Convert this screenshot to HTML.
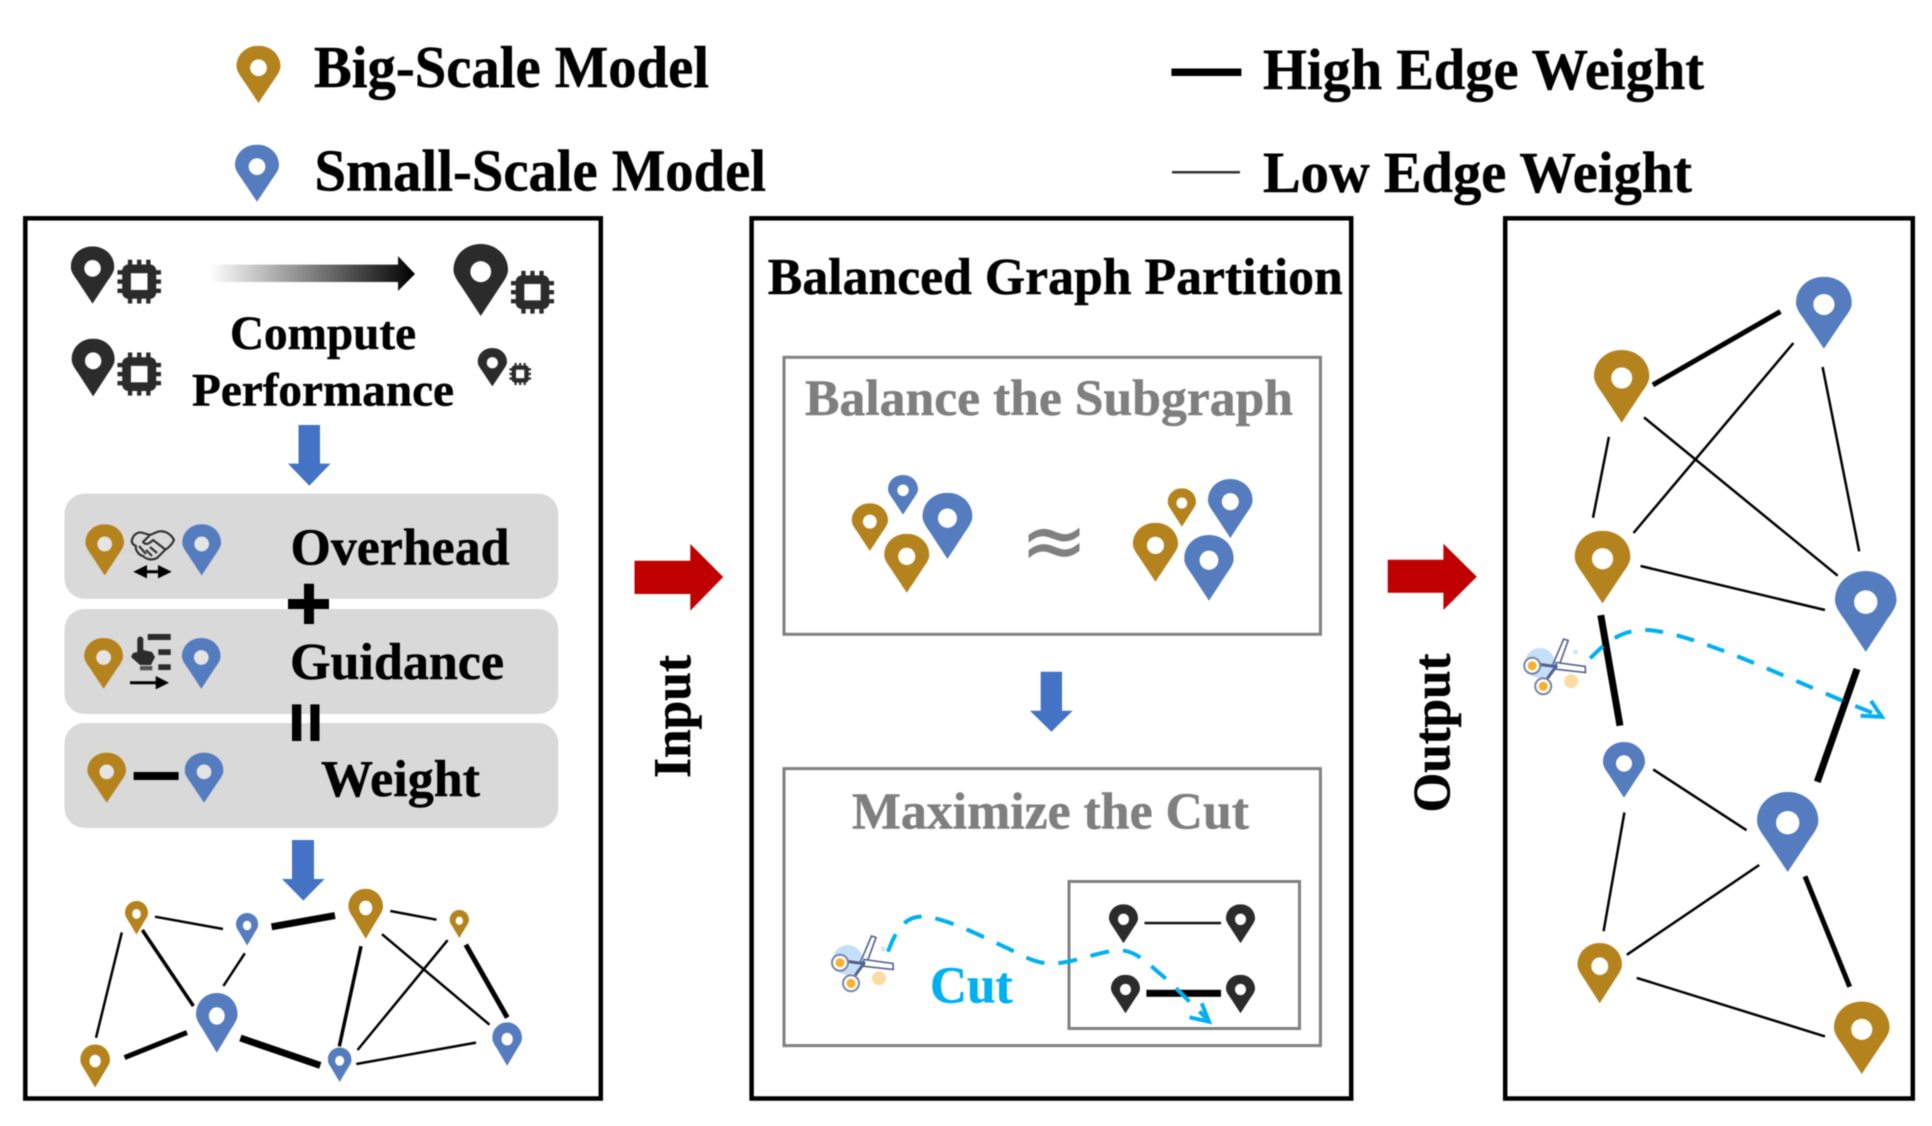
<!DOCTYPE html>
<html><head><meta charset="utf-8"><style>
html,body{margin:0;padding:0;background:#fff}
svg{display:block;filter:blur(.5px)}
text{font-family:"Liberation Serif",serif;font-weight:bold;stroke:#000;stroke-width:.5}
text.g{fill:#7f7f7f;stroke:#7f7f7f}
text.b{fill:#00b0f0;stroke:#00b0f0}
text.a{font-family:"DejaVu Sans",sans-serif;font-weight:normal;fill:#808080;stroke:#808080;stroke-width:.8;stroke-linejoin:round}
</style></head><body>
<svg width="1932" height="1126" viewBox="0 0 1932 1126" xmlns="http://www.w3.org/2000/svg">
<defs>
<symbol id="p" viewBox="0 0 100 130" preserveAspectRatio="none">
<path fill="currentColor" d="M50 130L14 76C5 64 0 55 0 47C0 20 22 0 50 0C78 0 100 20 100 47C100 55 95 64 86 76Z"/>
<ellipse cx="50" cy="50" rx="19" ry="19" fill="#fff"/>
</symbol>
<symbol id="q" viewBox="0 0 100 130" preserveAspectRatio="none">
<path fill="currentColor" d="M50 130L14 76C5 64 0 55 0 47C0 20 22 0 50 0C78 0 100 20 100 47C100 55 95 64 86 76Z"/>
<ellipse cx="50" cy="50" rx="19" ry="19" fill="#e4e4e4"/>
</symbol>
<symbol id="c" viewBox="0 0 100 100" preserveAspectRatio="none">
<g fill="#2b2b2b">
<rect x="11" y="11" width="78" height="78" rx="14"/>
<rect x="24" y="0" width="10" height="14"/><rect x="45" y="0" width="10" height="14"/><rect x="66" y="0" width="10" height="14"/>
<rect x="24" y="86" width="10" height="14"/><rect x="45" y="86" width="10" height="14"/><rect x="66" y="86" width="10" height="14"/>
<rect x="0" y="24" width="14" height="10"/><rect x="0" y="45" width="14" height="10"/><rect x="0" y="66" width="14" height="10"/>
<rect x="86" y="24" width="14" height="10"/><rect x="86" y="45" width="14" height="10"/><rect x="86" y="66" width="14" height="10"/>
</g>
<rect x="31" y="31" width="38" height="38" fill="#fff"/>
</symbol>
<linearGradient id="gr" x1="0" x2="1" y1="0" y2="0"><stop offset="0" stop-color="#fff"/><stop offset="1" stop-color="#000"/></linearGradient>
<g id="sc">
<circle cx="847.7" cy="960" r="15" fill="#c5dffa"/>
<circle cx="879" cy="978.3" r="7" fill="#fcdca4"/>
<circle cx="883.3" cy="949" r="2.5" fill="#cfe6fb"/>
<path d="M871.5 936L876 937.5L866 965L860 963Z" fill="#fff" stroke="#55608a" stroke-width="1.6"/>
<path d="M893.3 969.5L893 963.5L864 959.5L862 966Z" fill="#fff" stroke="#55608a" stroke-width="1.6"/>
<path d="M863 963.5L848 961.5M863.5 964L854 977" stroke="#55608a" stroke-width="3" fill="none"/>
<circle cx="863.5" cy="963.3" r="2" fill="#3a66b0"/>
<circle cx="840" cy="962.7" r="8" fill="#fff" stroke="#7a85a0" stroke-width="2"/>
<circle cx="840" cy="962.7" r="4.5" fill="#f6b12d"/>
<circle cx="851" cy="983.3" r="8" fill="#fff" stroke="#7a85a0" stroke-width="2"/>
<circle cx="851" cy="983.3" r="4.5" fill="#f6b12d"/>
</g>
</defs>

<!-- Legend -->
<use href="#p" x="236.5" y="45.7" width="44" height="57.3" color="#b5831e"/>
<use href="#p" x="235" y="144.6" width="44" height="57.2" color="#557cbf"/>
<text x="314" y="87" font-size="59" textLength="395" lengthAdjust="spacingAndGlyphs">Big-Scale Model</text>
<text x="314.5" y="190.5" font-size="59" textLength="451.5" lengthAdjust="spacingAndGlyphs">Small-Scale Model</text>
<rect x="1171.4" y="68.5" width="70" height="7.5" fill="#000"/>
<rect x="1172" y="171" width="68" height="2.5" fill="#333"/>
<text x="1263" y="89" font-size="58" textLength="441" lengthAdjust="spacingAndGlyphs">High Edge Weight</text>
<text x="1263" y="192" font-size="58" textLength="429" lengthAdjust="spacingAndGlyphs">Low Edge Weight</text>

<!-- Frames -->
<g fill="none" stroke="#000" stroke-width="4.5">
<rect x="25.3" y="218.3" width="575.5" height="880.2"/>
<rect x="751.6" y="218.3" width="599.6" height="880.2"/>
<rect x="1505.2" y="218.3" width="407.6" height="880.2"/>
</g>

<!-- Left panel top -->
<use href="#p" x="70.8" y="246.4" width="43.5" height="57.2" color="#2b2b2b"/>
<use href="#c" x="117.4" y="259.6" width="43.6" height="44"/>
<use href="#p" x="453.5" y="244" width="54.5" height="72" color="#2b2b2b"/>
<use href="#c" x="511" y="270.7" width="43" height="43"/>
<use href="#p" x="71.6" y="338.6" width="43.1" height="57.8" color="#2b2b2b"/>
<use href="#c" x="117.4" y="352.5" width="43.6" height="43.2"/>
<use href="#p" x="477.7" y="348" width="29.3" height="38.4" color="#2b2b2b"/>
<use href="#c" x="509.3" y="362.9" width="21.7" height="22.1"/>
<path d="M209.6 264.6H398V256L415 274L398 291V282H209.6Z" fill="url(#gr)"/>
<text x="230" y="349" font-size="48" textLength="186" lengthAdjust="spacingAndGlyphs">Compute</text>
<text x="192" y="405.4" font-size="47" textLength="262" lengthAdjust="spacingAndGlyphs">Performance</text>
<path d="M298.5 425H320V463.6H330.6L309.3 485.7L288 463.6H298.5Z" fill="#4472c4"/>

<!-- Gray panels -->
<rect x="64.5" y="493.6" width="493.8" height="105.1" rx="20" fill="#d9d9d9"/>
<rect x="64.5" y="609" width="493.8" height="105" rx="20" fill="#d9d9d9"/>
<rect x="64.5" y="723" width="493.8" height="105" rx="20" fill="#d9d9d9"/>

<use href="#q" x="85.4" y="524.3" width="38.6" height="51.2" color="#b5831e"/>
<use href="#q" x="182.3" y="524.3" width="38.7" height="51.2" color="#557cbf"/>
<g fill="none" stroke="#333" stroke-width="2.2" stroke-linejoin="round">
<path d="M132 540C133 535 138 531 143 533L150 535L157 532C162 530 170 532 174 540C172 545 168 548 165 550L157 558C152 561 146 559 143 556C138 555 135 549 136 546C133 545 131 542 132 540Z"/>
<path d="M150 535L143 542C146 546 150 543 153 540L166 550M146 550L152 556M150 547L157 553M139 546L146 554"/>
</g>
<path d="M142 571.7H163" stroke="#000" stroke-width="3"/>
<path d="M133.3 571.7L147 565V578.4ZM171.7 571.7L158 565V578.4Z" fill="#000"/>
<text x="290.5" y="564.3" font-size="52" textLength="219" lengthAdjust="spacingAndGlyphs">Overhead</text>
<path d="M304 583.7h10v15.3h15v10h-15v15h-10v-15h-16v-10h16Z" fill="#000"/>

<use href="#q" x="84.2" y="638" width="38.8" height="50.7" color="#b5831e"/>
<use href="#q" x="182" y="638" width="38.6" height="50.7" color="#557cbf"/>
<g fill="#2b2b2b">
<rect x="147.7" y="634" width="23" height="6"/>
<rect x="158.3" y="649.3" width="12.4" height="5.7"/>
<rect x="158.3" y="664.3" width="12.4" height="5.7"/>
<path d="M137.3 652V639.5a3 3 0 0 1 6 0V650L152 652L155 657L151 665H140L131 657L133 653Z"/>
<rect x="140" y="666" width="12.3" height="4.3" fill="#555"/>
</g>
<path d="M130 682.7H157" stroke="#000" stroke-width="3"/>
<path d="M155.7 676L169 682.7L155.7 689.4Z" fill="#000"/>
<text x="290" y="679" font-size="52" textLength="214" lengthAdjust="spacingAndGlyphs">Guidance</text>
<rect x="292" y="704.4" width="9.3" height="36.6" fill="#000"/>
<rect x="310.4" y="704.4" width="9.1" height="36.6" fill="#000"/>

<use href="#q" x="87.4" y="752.6" width="38.6" height="50.1" color="#b5831e"/>
<use href="#q" x="184.7" y="752.6" width="38.7" height="50.1" color="#557cbf"/>
<rect x="133.6" y="772" width="45" height="8" fill="#000"/>
<text x="321" y="796" font-size="52" textLength="159" lengthAdjust="spacingAndGlyphs">Weight</text>
<path d="M292 840H314V879H324.6L303.3 900.6L282 879H292Z" fill="#4472c4"/>

<!-- Left graph -->
<g stroke="#000" fill="none">
<path stroke-width="2.5" d="M155 916.7L223 929M121.8 932.4L96 1037.8M244.8 953.3L223.4 986M390.3 911L436.5 919.7M382 934.2L489.5 1024.7M447.6 940.2L357.5 1050M356.3 1064L476 1042.6"/>
<path stroke-width="3.5" d="M142.3 930L193.4 1006M361 946.2L339.3 1046.4"/>
<path stroke-width="7" d="M271.6 926.8L335 915.6M240.4 1038L320.3 1065.4"/>
<path stroke-width="5" d="M465.8 944.7L507.3 1017.6M187 1032.5L124.6 1057.6"/>
</g>
<use href="#p" x="125" y="901" width="23" height="33.6" color="#b5831e"/>
<use href="#p" x="236" y="913" width="22.2" height="32.5" color="#557cbf"/>
<use href="#p" x="348.4" y="888.7" width="34.6" height="50" color="#b5831e"/>
<use href="#p" x="449.6" y="910" width="19.4" height="28" color="#b5831e"/>
<use href="#p" x="196" y="993" width="41.6" height="59.7" color="#557cbf"/>
<use href="#p" x="80.3" y="1044.5" width="29.7" height="43" color="#b5831e"/>
<use href="#p" x="327.8" y="1047.5" width="23.7" height="34.5" color="#557cbf"/>
<use href="#p" x="492.3" y="1022.4" width="29.7" height="43.4" color="#557cbf"/>

<!-- Red arrows -->
<path d="M634.5 560.7H690.3V544L723.2 577L690.3 610.7V594H634.5Z" fill="#c00000"/>
<text transform="translate(690 778) rotate(-90)" font-size="53" textLength="123" lengthAdjust="spacingAndGlyphs">Input</text>
<path d="M1387.7 559.7H1443.4V543.8L1476.8 576.8L1443.4 610V592.8H1387.7Z" fill="#c00000"/>
<text transform="translate(1449.4 812.5) rotate(-90)" font-size="53" textLength="159" lengthAdjust="spacingAndGlyphs">Output</text>

<!-- Middle panel -->
<text x="767.8" y="294" font-size="52" textLength="575" lengthAdjust="spacingAndGlyphs">Balanced Graph Partition</text>
<rect x="784" y="357.3" width="536.4" height="277" fill="none" stroke="#808080" stroke-width="3"/>
<text class="g" x="805" y="415" font-size="51" textLength="488" lengthAdjust="spacingAndGlyphs">Balance the Subgraph</text>
<use href="#p" x="888" y="475" width="30" height="39.7" color="#557cbf"/>
<use href="#p" x="851.7" y="503.3" width="36.3" height="47.7" color="#b5831e"/>
<use href="#p" x="922.5" y="492.7" width="49.9" height="66.3" color="#557cbf"/>
<use href="#p" x="884.2" y="533.7" width="45.1" height="59" color="#b5831e"/>
<text class="a" x="1054" y="568" font-size="80" text-anchor="middle">≈</text>
<use href="#p" x="1167.7" y="488.3" width="28.3" height="38.4" color="#b5831e"/>
<use href="#p" x="1208" y="479" width="44.6" height="59" color="#557cbf"/>
<use href="#p" x="1132.9" y="522.7" width="45.1" height="59" color="#b5831e"/>
<use href="#p" x="1184.2" y="535" width="49.5" height="65.7" color="#557cbf"/>
<path d="M1040.7 671.7H1062V710.7H1072.7L1051.4 731.7L1030 710.7H1040.7Z" fill="#4472c4"/>

<rect x="784" y="768.6" width="536.4" height="277" fill="none" stroke="#808080" stroke-width="3"/>
<text class="g" x="852" y="828.3" font-size="52" textLength="397" lengthAdjust="spacingAndGlyphs">Maximize the Cut</text>
<rect x="1069" y="881.5" width="230.5" height="147" fill="none" stroke="#808080" stroke-width="3"/>
<use href="#p" x="1109" y="904.3" width="29" height="39" color="#2b2b2b"/>
<use href="#p" x="1226" y="904.3" width="29" height="39" color="#2b2b2b"/>
<use href="#p" x="1111" y="974.7" width="29" height="38.6" color="#2b2b2b"/>
<use href="#p" x="1226" y="974.7" width="29" height="38.6" color="#2b2b2b"/>
<rect x="1144.5" y="921.8" width="76.5" height="2.5" fill="#111"/>
<rect x="1146.4" y="989.8" width="74.6" height="7" fill="#000"/>
<text class="b" x="930" y="1002.7" font-size="52" textLength="82.6" lengthAdjust="spacingAndGlyphs">Cut</text>
<use href="#sc"/>
<path d="M888 951.7C896 930 905 916 923 916.7C945 917 985 938 1007.8 948.3C1025 957 1035 963 1050 963.5C1075 964 1105 948 1124 950.7C1140 953 1152 968 1167.7 980L1207 1019" fill="none" stroke="#00b0f0" stroke-width="4" stroke-dasharray="19 14"/>
<path d="M1201.7 1003.3L1209 1021.7L1189.6 1017.3" fill="none" stroke="#00b0f0" stroke-width="4"/>

<!-- Right graph -->
<g stroke="#000" fill="none">
<path stroke-width="2.5" d="M1644 417.4L1837.7 575.7M1633.5 533L1793.4 343M1608.9 436.9L1593 517.8M1822.6 367L1859.2 551.4M1640.6 566L1825 610M1653.2 769.4L1746.5 830.2M1624.4 812.5L1603.6 931.2M1759.2 865L1626.8 954.8M1636.7 977.9L1825 1036.4"/>
<path stroke-width="5" d="M1652.9 384.9L1780.4 311.6M1805 876.3L1849.7 986.8"/>
<path stroke-width="7" d="M1600.8 615.2L1620 725.7M1857 669L1817.3 781.8"/>
</g>
<use href="#p" x="1796" y="276.8" width="55.8" height="72" color="#557cbf"/>
<use href="#p" x="1594" y="350" width="55.4" height="72.7" color="#b5831e"/>
<use href="#p" x="1574.7" y="530.8" width="55.7" height="72.6" color="#b5831e"/>
<use href="#p" x="1835" y="571" width="61.5" height="80.9" color="#557cbf"/>
<use href="#p" x="1603" y="742" width="42" height="55.8" color="#557cbf"/>
<use href="#p" x="1757" y="791.9" width="61.4" height="80.1" color="#557cbf"/>
<use href="#p" x="1577.5" y="943" width="44.5" height="60.3" color="#b5831e"/>
<use href="#p" x="1834" y="1001.5" width="55.5" height="72.5" color="#b5831e"/>
<use href="#sc" transform="translate(692.2 -297)"/>
<path d="M1590.2 658.4C1606 642 1622 629 1648 630C1700 634 1800 685 1878 715" fill="none" stroke="#00b0f0" stroke-width="4" stroke-dasharray="18 14"/>
<path d="M1871 700.9L1881.8 716.8L1860.6 715.7" fill="none" stroke="#00b0f0" stroke-width="4"/>
</svg>
</body></html>
